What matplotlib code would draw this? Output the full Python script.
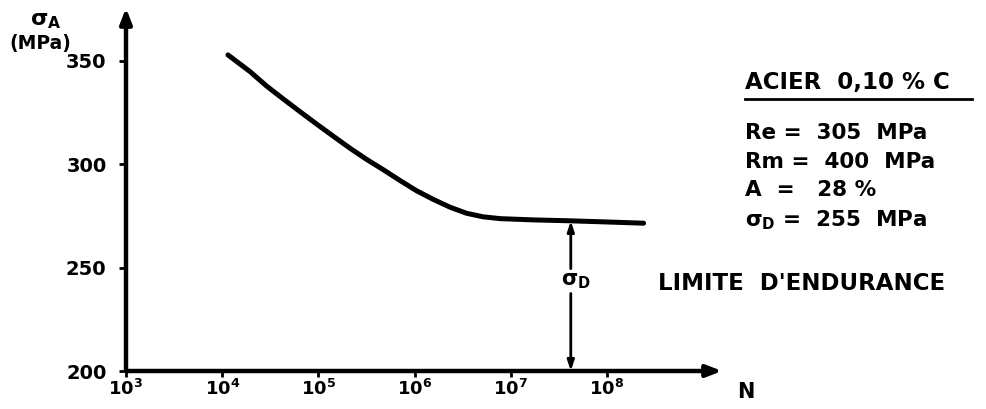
import numpy as np
import matplotlib
matplotlib.use("Agg")
import matplotlib.pyplot as plt

# S-N curve, steel 0.10 % C
log_N = [4.06, 4.29, 4.46, 4.64, 4.81, 4.98, 5.16, 5.33, 5.50, 5.68, 5.85,
         6.02, 6.19, 6.37, 6.54, 6.71, 6.89, 7.23, 7.58, 7.93, 8.38]
sigma_a = [352.9, 344.8, 337.9, 331.4, 325.4, 319.5, 313.4, 307.7, 302.4,
           297.2, 292.1, 287.2, 283.1, 279.2, 276.3, 274.6, 273.7, 273.1,
           272.7, 272.2, 271.5]

x_ticks = [1e3, 1e4, 1e5, 1e6, 1e7, 1e8]
x_labels = ["10$^{3}$", "10$^{4}$", "10$^{5}$", "10$^{6}$", "10$^{7}$", "10$^{8}$"]
y_ticks = [200, 250, 300, 350]

N_limit = 4.2e7
sigma_limit_top = 272.6

props = ["ACIER  0,10 % C", "Re =  305  MPa", "Rm =  400  MPa",
         "A  =   28 %", "σ$_{D}$ =  255  MPa"]

plt.rcParams['font.family'] = ['DejaVu Sans']
plt.rcParams['font.weight'] = 'bold'
plt.rcParams['mathtext.default'] = 'bf'

fig = plt.figure(figsize=(9.86, 4.09), dpi=100)
ax = fig.add_axes([126/986, 38/409, 596/986, 363/409])
ax.patch.set_alpha(0)

N = 10 ** np.array(log_N)
ax.plot(N, sigma_a, color="black", lw=3.6, solid_capstyle="round")

ax.set_xscale("log")
ax.set_xlim(1e3, 10 ** 9.195)
ax.set_ylim(200, 375.6)
ax.minorticks_off()
ax.set_xticks(x_ticks)
ax.set_xticklabels(x_labels, fontsize=13)
ax.set_yticks(y_ticks)
ax.set_yticklabels([str(v) for v in y_ticks], fontsize=14)
ax.tick_params(axis="y", direction="out", length=5, width=2, pad=9)
ax.tick_params(axis="x", direction="out", length=4, width=2, pad=2)
for s in ax.spines.values():
    s.set_visible(False)

# axes drawn as arrows
ax.annotate("", xy=(0, 1), xytext=(0, 0), xycoords="axes fraction",
            arrowprops=dict(arrowstyle="-|>,head_length=0.9,head_width=0.35",
                            color="black", lw=3.2, shrinkA=0, shrinkB=0))
ax.annotate("", xy=(1, 0), xytext=(0, 0), xycoords="axes fraction",
            arrowprops=dict(arrowstyle="-|>,head_length=0.9,head_width=0.35",
                            color="black", lw=3.2, shrinkA=0, shrinkB=0))

# endurance limit marker (double arrow split by the label)
gap_lo, gap_hi = 249.5, 237.5
ax.annotate("", xy=(N_limit, sigma_limit_top), xytext=(N_limit, gap_lo),
            arrowprops=dict(arrowstyle="-|>,head_length=0.6,head_width=0.2",
                            color="black", lw=2, shrinkA=0, shrinkB=0))
ax.annotate("", xy=(N_limit, 200), xytext=(N_limit, gap_hi),
            arrowprops=dict(arrowstyle="-|>,head_length=0.6,head_width=0.2",
                            color="black", lw=2, shrinkA=0, shrinkB=0))
ax.text(N_limit * 1.12, 243.5, "σ$_{D}$", fontsize=15,
        ha="center", va="center")

# labels
fig.text(30/986, 1 - 21/409, "σ$_{A}$", fontsize=16, ha="left", va="center")
fig.text(9/986, 1 - 44/409, "(MPa)", fontsize=13.5, ha="left", va="center")
fig.text(746/986, 1 - 392/409, "N", fontsize=15, ha="center", va="center")

ys = [83, 133, 162, 190, 220]
for i, (txt, yy) in enumerate(zip(props, ys)):
    fig.text(745/986, 1 - yy/409, txt, fontsize=16.5 if i == 0 else 15.5,
             ha="left", va="center")
fig.lines.append(plt.Line2D([745/986, 972/986], [1 - 99/409, 1 - 99/409],
                            transform=fig.transFigure, color="black", lw=2))
fig.text(658/986, 1 - 283/409, "LIMITE  D'ENDURANCE", fontsize=16.5,
         ha="left", va="center")

fig.savefig("out.png", dpi=100)
